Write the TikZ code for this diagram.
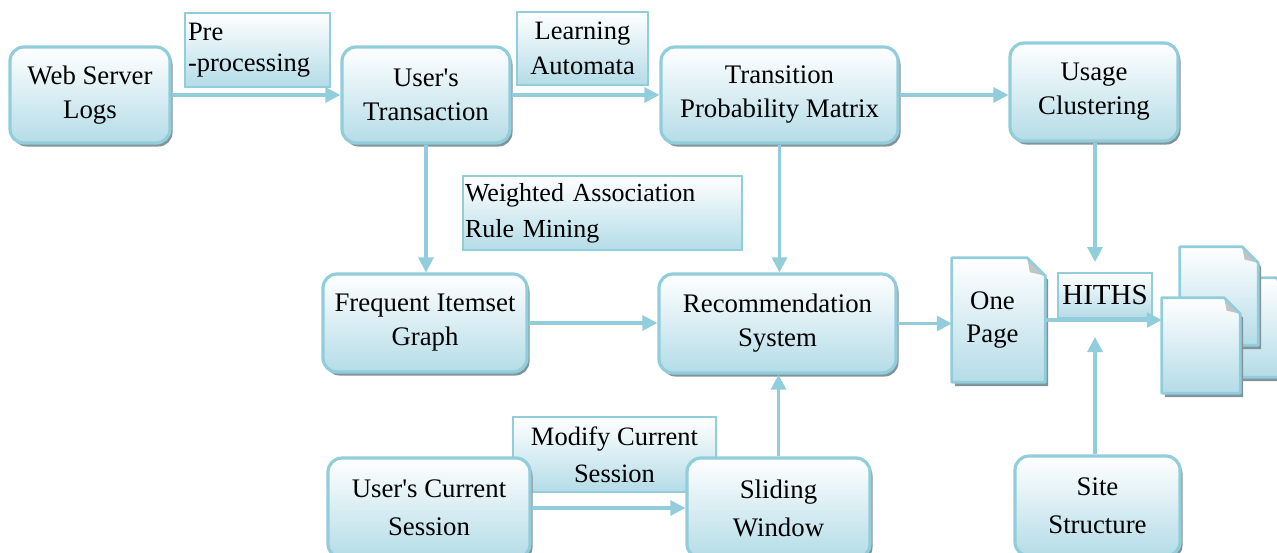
\documentclass[tikz,border=0pt]{standalone}
\usepackage{fontspec}
\setmainfont{Liberation Serif}
\usetikzlibrary{arrows.meta,shadows,calc}
\definecolor{bordc}{RGB}{146,205,220}
\definecolor{botc}{RGB}{180,220,231}
\definecolor{shadc}{RGB}{130,148,155}
\definecolor{foldc}{RGB}{195,195,195}
\tikzset{
  mainbox/.style={draw=bordc, line width=3.2pt, rounded corners=14pt, top color=white, bottom color=botc,
    align=center, font=\fontsize{26.8}{34}\selectfont, inner sep=2pt,
    drop shadow={shadow xshift=2.5pt, shadow yshift=-3.5pt, fill=shadc, opacity=1}},
  labelbox/.style={draw=bordc, line width=2.6pt, top color=white, bottom color=botc,
    font=\fontsize{26.5}{35}\selectfont, inner sep=1pt},
  conn/.style={draw=bordc, line width=3.2pt, -{Triangle[length=15pt,width=15pt]}},
  docnode/.style={inner sep=0pt, draw=none},
  doctext/.style={align=center, font=\fontsize{26.8}{33}\selectfont},
}
\newcommand\pagedoc[2]{%
  \fill[shadc] ($(#1.north west)+(3,4)$) -- ($(#1.north east)+(3-#2,4)$) -- ($(#1.north east)+(3,4+#2)$) -- ($(#1.south east)+(3,4)$) -- ($(#1.south west)+(3,4)$) -- cycle;
  \path[top color=white, bottom color=botc] (#1.north west) -- ($(#1.north east)+(-#2,0)$) -- ($(#1.north east)+(0,#2)$) -- (#1.south east) -- (#1.south west) -- cycle;
  \fill[foldc] ($(#1.north east)+(-#2,0)$) -- ($(#1.north east)+(0,#2)$) -- ($(#1.north east)+(-0.85*#2,0.8*#2)$) -- cycle;
  \draw[bordc, line width=2.8pt, line join=round] (#1.north west) -- ($(#1.north east)+(-#2,0)$) -- ($(#1.north east)+(0,#2)$) -- (#1.south east) -- (#1.south west) -- cycle;
}
\begin{document}
\begin{tikzpicture}[x=1pt,y=-1pt]
\useasboundingbox (0,0) rectangle (1277,552);
\clip (0,0) rectangle (1277,552);

% label boxes (behind)
\node[labelbox, minimum width=145, minimum height=74, text width=139, align=left, font=\fontsize{26.5}{31}\selectfont] (pre) at (257.5,50) {Pre\\-processing};
\node[labelbox, minimum width=131, minimum height=73, align=center] (la) at (582.5,48.5) {Learning\\Automata};
\node[labelbox, minimum width=279, minimum height=74, text width=275, align=left, font=\fontsize{26}{36}\selectfont] (war) at (602.5,213) {Weighted Association\\Rule Mining};
\node[labelbox, minimum width=203, minimum height=75, align=center, font=\fontsize{26.5}{37}\selectfont] (mcs) at (614.5,454.5) {Modify Current\\Session};
\node[labelbox, minimum width=94, minimum height=45, font=\fontsize{29}{30}\selectfont] (hiths) at (1105,295.5) {HITHS};

% main boxes
\node[mainbox, minimum width=160, minimum height=96] (web) at (90,95) {Web Server\\Logs};
\node[mainbox, minimum width=168, minimum height=96] (ut) at (426,95) {User\textquotesingle s\\Transaction};
\node[mainbox, minimum width=237, minimum height=96] (tpm) at (779.5,95) {Transition\\Probability Matrix};
\node[mainbox, minimum width=168, minimum height=98] (uc) at (1094,92) {Usage\\Clustering};
\node[mainbox, minimum width=204, minimum height=98] (fig) at (425,323) {Frequent Itemset\\Graph};
\node[mainbox, minimum width=237, minimum height=99] (rec) at (777.5,323.5) {Recommendation\\System};
\node[mainbox, minimum width=202, minimum height=100, font=\fontsize{26.8}{38}\selectfont] (ucs) at (429,508) {User\textquotesingle s Current\\Session};
\node[mainbox, minimum width=183, minimum height=100, font=\fontsize{26.8}{38}\selectfont] (sw) at (778.5,508) {Sliding\\Window};
\node[mainbox, minimum width=165, minimum height=100, font=\fontsize{26.8}{38}\selectfont] (ss) at (1097.5,506) {Site\\Structure};

% documents
\node[docnode, minimum width=93, minimum height=124] (op) at (998.5,320) {};
\pagedoc{op}{18}
\node[doctext] (optext) at ([xshift=-6pt]op.center) {One\\Page};
\node[docnode, minimum width=80, minimum height=99] (pmid) at (1252,327.5) {};
\pagedoc{pmid}{16}
\node[docnode, minimum width=78, minimum height=98] (pback) at (1219,296) {};
\pagedoc{pback}{16}
\node[docnode, minimum width=78, minimum height=95] (pfront) at (1201,345.5) {};
\pagedoc{pfront}{16}

% free ends
\coordinate (hitop) at (1095,262);
\coordinate (hibot) at (1095,337);

% connectors
\draw[conn] (web.east) -- (ut.west);
\draw[conn] (ut.east) -- (tpm.west);
\draw[conn] (tpm.east) -- (tpm.east -| uc.west);
\draw[conn] (ut.south) -- (ut.south |- fig.north);
\draw[conn] (tpm.south) -- (tpm.south |- rec.north);
\draw[conn] (fig.east) -- (fig.east -| rec.west);
\draw[conn] (rec.east) -- (rec.east -| op.west);
\draw[conn] (sw.north) -- (sw.north |- rec.south);
\draw[conn] (ucs.east) -- (ucs.east -| sw.west);
\draw[conn] (hitop |- uc.south) -- (hitop);
\draw[conn] (hibot |- ss.north) -- (hibot);
\draw[conn] (op.east) -- (op.east -| pfront.west);
\end{tikzpicture}
\end{document}
